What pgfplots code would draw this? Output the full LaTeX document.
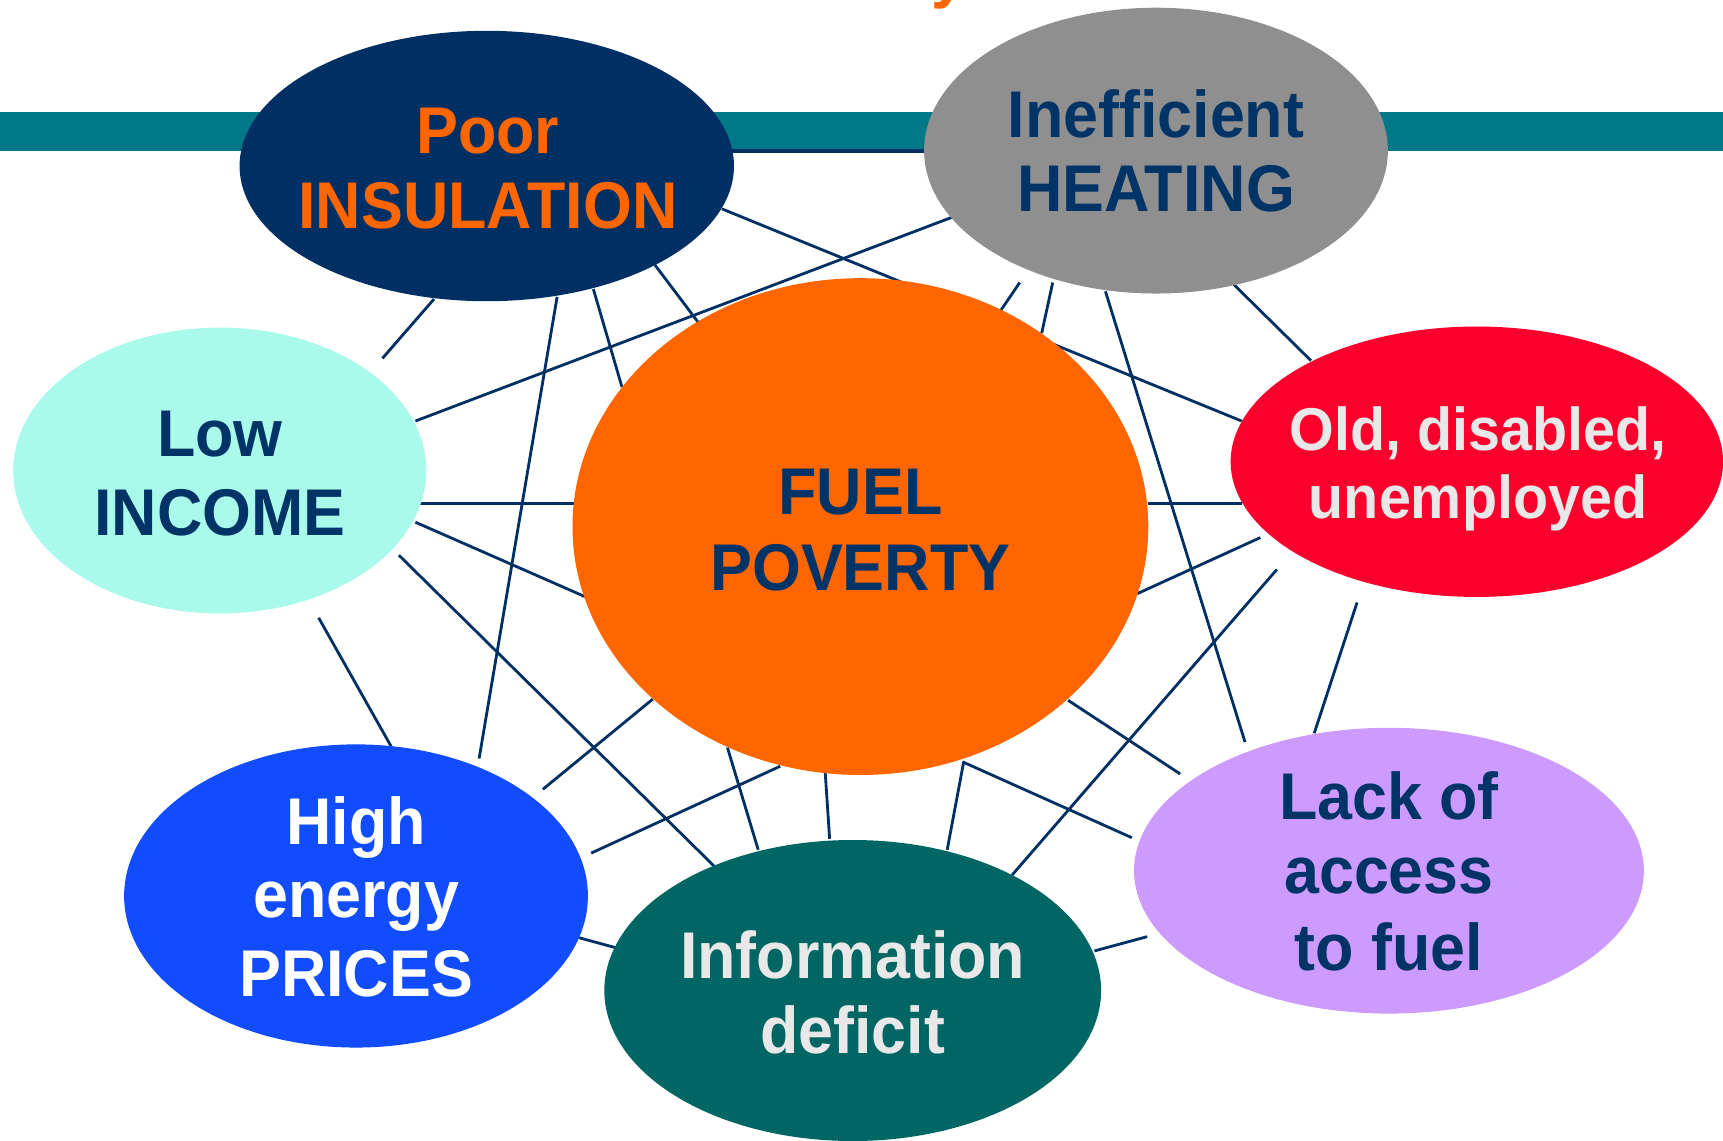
\documentclass[border=0pt]{standalone}
\usepackage{pgfplots}
\pgfplotsset{compat=1.18}
\usepackage{fontspec}
\setmainfont{Liberation Sans}[FakeStretch=0.95]
\definecolor{navy}{RGB}{0,48,99}
\definecolor{navytxt}{RGB}{0,51,102}
\definecolor{orng}{RGB}{255,102,0}
\definecolor{greyh}{RGB}{143,143,143}
\definecolor{aqua}{RGB}{170,250,235}
\definecolor{redo}{RGB}{250,0,45}
\definecolor{bluep}{RGB}{17,76,255}
\definecolor{tealc}{RGB}{0,102,100}
\definecolor{lav}{RGB}{205,155,255}
\definecolor{barc}{RGB}{0,120,136}
\definecolor{lgrey}{RGB}{232,232,232}
\newcommand\fsA{\fontsize{18.8}{22}\selectfont\bfseries}
\newcommand\fsB{\fontsize{17.2}{20}\selectfont\bfseries}
\tikzset{lk/.style={navy, solid, line width=0.8pt, no marks}}
\begin{document}
\begin{tikzpicture}
\useasboundingbox (0,0) rectangle (17.23,11.40);
\clip (0,0) rectangle (17.23,11.40);
\begin{axis}[at={(0,0)}, anchor=south west, scale only axis,
  width=17.23cm, height=11.40cm,
  xmin=0, xmax=1568, ymin=0, ymax=1037, y dir=reverse,
  hide axis, clip=false]
% teal bar
\fill[barc] (axis cs:0,102) rectangle (axis cs:1568,137);
\addplot[lk, line width=1pt] coordinates {(655,137.5) (850,137.5)};
% connecting lines
\addplot[lk] coordinates {(348,326) (395,272)};
\addplot[lk] coordinates {(378,383) (868,197)};
\addplot[lk] coordinates {(657,190) (1130,383)};
\addplot[lk] coordinates {(596,241) (636,294)};
\addplot[lk] coordinates {(540,263) (566,352)};
\addplot[lk] coordinates {(507,270) (436,690)};
\addplot[lk] coordinates {(378,458) (522,458)};
\addplot[lk] coordinates {(378,475) (533,543)};
\addplot[lk] coordinates {(363,505) (650,788)};
\addplot[lk] coordinates {(290,562) (356,679)};
\addplot[lk] coordinates {(494,718) (594,636)};
\addplot[lk] coordinates {(538,776) (710,697)};
\addplot[lk] coordinates {(662,680) (690,773)};
\addplot[lk] coordinates {(751,703) (755,763)};
\addplot[lk] coordinates {(877,693) (862,773)};
\addplot[lk] coordinates {(876,693) (1030,762)};
\addplot[lk] coordinates {(972,637) (1074,704)};
\addplot[lk] coordinates {(1162,518) (921,796)};
\addplot[lk] coordinates {(1006,265) (1133,675)};
\addplot[lk] coordinates {(1235,548) (1196,667)};
\addplot[lk] coordinates {(1123,259) (1193,328)};
\addplot[lk] coordinates {(928,257) (911,282)};
\addplot[lk] coordinates {(958,257) (948,303)};
\addplot[lk] coordinates {(1045,458) (1130,458)};
\addplot[lk] coordinates {(1035,540) (1147,489)};
\addplot[lk] coordinates {(527,853) (560,862)};
\addplot[lk] coordinates {(996,865) (1044,852)};
% ellipses
\fill[navy]  (axis cs:443,151)  ellipse [x radius=2.472cm, y radius=1.352cm];
\fill[greyh] (axis cs:1052,137) ellipse [x radius=2.319cm, y radius=1.429cm];
\fill[aqua]  (axis cs:200,428)  ellipse [x radius=2.066cm, y radius=1.429cm];
\fill[orng]  (axis cs:783,479)  ellipse [x radius=2.879cm, y radius=2.484cm];
\fill[redo]  (axis cs:1344,420) ellipse [x radius=2.462cm, y radius=1.352cm];
\fill[bluep] (axis cs:324,815)  ellipse [x radius=2.319cm, y radius=1.516cm];
\fill[tealc] (axis cs:776,901)  ellipse [x radius=2.484cm, y radius=1.505cm];
\fill[lav]   (axis cs:1264,792) ellipse [x radius=2.549cm, y radius=1.429cm];
% title fragment (cut off at the top, as in the reference)
\node[anchor=base east, text=orng, font=\fsA, inner sep=0pt] at (axis cs:880,-4) {Fuel Poverty};
% labels
\node[anchor=base, text=orng, font=\fsA] at (axis cs:444,140) {Poor};
\node[anchor=base, text=orng, font=\fsA] at (axis cs:444,208) {INSULATION};
\node[anchor=base, text=navytxt, font=\fsA] at (axis cs:1052,125) {Inefficient};
\node[anchor=base, text=navytxt, font=\fsA] at (axis cs:1052,192) {HEATING};
\node[anchor=base, text=navytxt, font=\fsA] at (axis cs:200,415) {Low};
\node[anchor=base, text=navytxt, font=\fsA] at (axis cs:200,487) {INCOME};
\node[anchor=base, text=navytxt, font=\fsA] at (axis cs:783,468) {FUEL};
\node[anchor=base, text=navytxt, font=\fsA] at (axis cs:783,537) {POVERTY};
\node[anchor=base, text=lgrey, font=\fsB] at (axis cs:1345,410) {Old, disabled,};
\node[anchor=base, text=lgrey, font=\fsB] at (axis cs:1345,472) {unemployed};
\node[anchor=base, text=white, font=\fsA] at (axis cs:324,768) {High};
\node[anchor=base, text=white, font=\fsA] at (axis cs:324,835) {energy};
\node[anchor=base, text=white, font=\fsA] at (axis cs:324,906) {PRICES};
\node[anchor=base, text=lgrey, font=\fsA] at (axis cs:776,890) {Information};
\node[anchor=base, text=lgrey, font=\fsA] at (axis cs:776,958) {deficit};
\node[anchor=base, text=navytxt, font=\fsA] at (axis cs:1264,745) {Lack of};
\node[anchor=base, text=navytxt, font=\fsA] at (axis cs:1264,813) {access};
\node[anchor=base, text=navytxt, font=\fsA] at (axis cs:1264,883) {to fuel};
\end{axis}
\end{tikzpicture}
\end{document}
